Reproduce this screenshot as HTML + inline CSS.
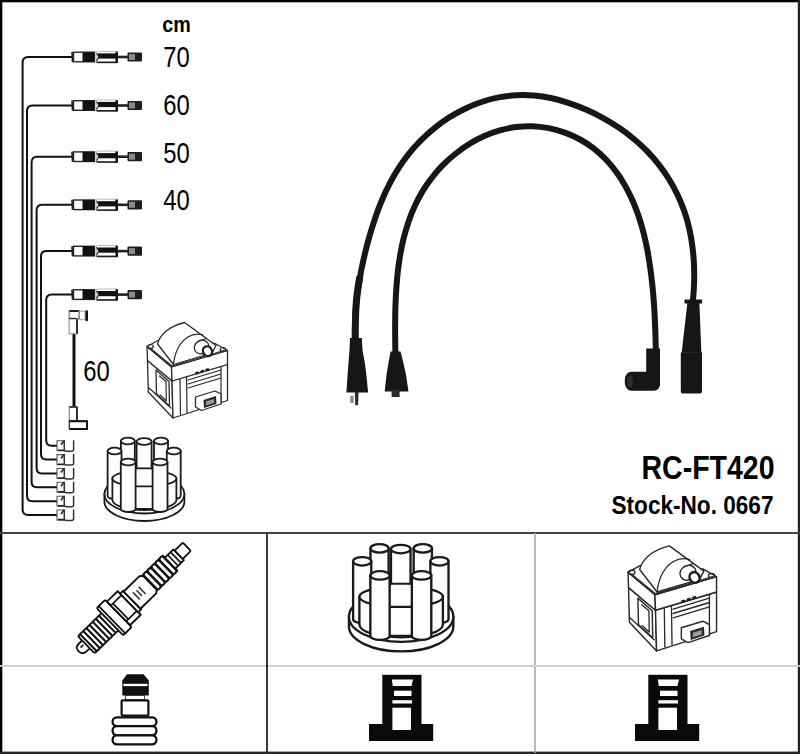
<!DOCTYPE html>
<html><head><meta charset="utf-8"><title>RC-FT420</title>
<style>
html,body{margin:0;padding:0;background:#fff;}
body{width:800px;height:754px;overflow:hidden;position:relative;font-family:"Liberation Sans",sans-serif;}
svg{position:absolute;left:0;top:0;}
</style></head><body>
<svg width="800" height="754" viewBox="0 0 800 754" font-family="Liberation Sans, sans-serif">
<rect x="0" y="0" width="800" height="754" fill="#fff"/>
<rect x="0" y="0" width="800" height="2.3" fill="#000"/>
<rect x="0" y="0" width="2.3" height="754" fill="#000"/>
<rect x="797.8" y="0" width="2.2" height="754" fill="#222"/>
<rect x="0" y="751.6" width="800" height="2.4" fill="#262626"/>
<rect x="0" y="532" width="800" height="2" fill="#444"/>
<rect x="266" y="533" width="2" height="220" fill="#3a3a3a"/>
<rect x="534.2" y="533" width="1.6" height="220" fill="#aaa"/>
<rect x="0" y="665" width="800" height="1.8" fill="#ccc"/>
<rect x="266" y="665" width="2" height="2" fill="#222"/>
<text x="162.3" y="31.6" font-weight="bold" font-size="22.5" textLength="28.5" lengthAdjust="spacingAndGlyphs">cm</text>
<text x="163.3" y="67.3" font-size="30" textLength="26.5" lengthAdjust="spacingAndGlyphs">70</text>
<text x="163.3" y="114.7" font-size="30" textLength="26.5" lengthAdjust="spacingAndGlyphs">60</text>
<text x="163.3" y="162.8" font-size="30" textLength="26.5" lengthAdjust="spacingAndGlyphs">50</text>
<text x="163.3" y="210.4" font-size="30" textLength="26.5" lengthAdjust="spacingAndGlyphs">40</text>
<text x="83.3" y="381.4" font-size="30" textLength="26.5" lengthAdjust="spacingAndGlyphs">60</text>
<text x="641.5" y="479.4" font-weight="bold" font-size="33.5" textLength="133" lengthAdjust="spacingAndGlyphs">RC-FT420</text>
<text x="611.5" y="514" font-weight="bold" font-size="25" textLength="162" lengthAdjust="spacingAndGlyphs">Stock-No. 0667</text>
<path d="M72 57.0 L28.1 57.0 Q22.6 57.0 22.6 62.5 L22.6 509.5 Q22.6 515.0 28.1 515.0 L57 515.0" fill="none" stroke="#111" stroke-width="2"/>
<path d="M72 105.5 L32.5 105.5 Q27.0 105.5 27.0 111.0 L27.0 495.7 Q27.0 501.2 32.5 501.2 L57 501.2" fill="none" stroke="#111" stroke-width="2"/>
<path d="M72 156.7 L37.1 156.7 Q31.6 156.7 31.6 162.2 L31.6 481.8 Q31.6 487.3 37.1 487.3 L57 487.3" fill="none" stroke="#111" stroke-width="2"/>
<path d="M72 204.8 L42.1 204.8 Q36.6 204.8 36.6 210.3 L36.6 468.0 Q36.6 473.5 42.1 473.5 L57 473.5" fill="none" stroke="#111" stroke-width="2"/>
<path d="M72 251.1 L46.5 251.1 Q41.0 251.1 41.0 256.6 L41.0 454.1 Q41.0 459.6 46.5 459.6 L57 459.6" fill="none" stroke="#111" stroke-width="2"/>
<path d="M72 294.6 L51.7 294.6 Q46.2 294.6 46.2 300.1 L46.2 440.2 Q46.2 445.7 51.7 445.7 L57 445.7" fill="none" stroke="#111" stroke-width="2"/>
<path d="M72 52.0 L72.5 62.0" stroke="#222" stroke-width="1.6"/><rect x="73.5" y="52.2" width="21" height="9.6" fill="#fff" stroke="#222" stroke-width="1.4"/><rect x="82.5" y="52.2" width="11.5" height="9.6" fill="#111"/><rect x="96.3" y="51.4" width="21" height="11.4" rx="1.2" fill="#fff" stroke="#bbb" stroke-width="1"/><path d="M96 53.2 L98.5 56.0 L96 61.5 L96.5 63.0 L118 63.0 L118 52.0 L115.5 54.0 L98 53.5 Z" fill="none"/><rect x="98" y="53.4" width="19" height="5.2" fill="#111"/><rect x="96.5" y="61.5" width="21" height="1.6" fill="#222"/><rect x="115.5" y="51.5" width="2.5" height="11.5" rx="1" fill="#111"/><path d="M96.5 53.0 L98.8 57.0 L96.5 61.0" fill="none" stroke="#333" stroke-width="1.2"/><rect x="117" y="55.7" width="11.5" height="2.6" fill="#222"/><rect x="127.5" y="52.4" width="14.5" height="9.2" rx="1" fill="#1e1e1e"/><rect x="129" y="54.0" width="6" height="6" fill="#8a8a8a"/>
<path d="M72 100.5 L72.5 110.5" stroke="#222" stroke-width="1.6"/><rect x="73.5" y="100.7" width="21" height="9.6" fill="#fff" stroke="#222" stroke-width="1.4"/><rect x="82.5" y="100.7" width="11.5" height="9.6" fill="#111"/><rect x="96.3" y="99.9" width="21" height="11.4" rx="1.2" fill="#fff" stroke="#bbb" stroke-width="1"/><path d="M96 101.7 L98.5 104.5 L96 110.0 L96.5 111.5 L118 111.5 L118 100.5 L115.5 102.5 L98 102.0 Z" fill="none"/><rect x="98" y="101.9" width="19" height="5.2" fill="#111"/><rect x="96.5" y="110.0" width="21" height="1.6" fill="#222"/><rect x="115.5" y="100.0" width="2.5" height="11.5" rx="1" fill="#111"/><path d="M96.5 101.5 L98.8 105.5 L96.5 109.5" fill="none" stroke="#333" stroke-width="1.2"/><rect x="117" y="104.2" width="11.5" height="2.6" fill="#222"/><rect x="127.5" y="100.9" width="14.5" height="9.2" rx="1" fill="#1e1e1e"/><rect x="129" y="102.5" width="6" height="6" fill="#8a8a8a"/>
<path d="M72 151.7 L72.5 161.7" stroke="#222" stroke-width="1.6"/><rect x="73.5" y="151.9" width="21" height="9.6" fill="#fff" stroke="#222" stroke-width="1.4"/><rect x="82.5" y="151.9" width="11.5" height="9.6" fill="#111"/><rect x="96.3" y="151.1" width="21" height="11.4" rx="1.2" fill="#fff" stroke="#bbb" stroke-width="1"/><path d="M96 152.9 L98.5 155.7 L96 161.2 L96.5 162.7 L118 162.7 L118 151.7 L115.5 153.7 L98 153.2 Z" fill="none"/><rect x="98" y="153.1" width="19" height="5.2" fill="#111"/><rect x="96.5" y="161.2" width="21" height="1.6" fill="#222"/><rect x="115.5" y="151.2" width="2.5" height="11.5" rx="1" fill="#111"/><path d="M96.5 152.7 L98.8 156.7 L96.5 160.7" fill="none" stroke="#333" stroke-width="1.2"/><rect x="117" y="155.4" width="11.5" height="2.6" fill="#222"/><rect x="127.5" y="152.1" width="14.5" height="9.2" rx="1" fill="#1e1e1e"/><rect x="129" y="153.7" width="6" height="6" fill="#8a8a8a"/>
<path d="M72 199.8 L72.5 209.8" stroke="#222" stroke-width="1.6"/><rect x="73.5" y="200.0" width="21" height="9.6" fill="#fff" stroke="#222" stroke-width="1.4"/><rect x="82.5" y="200.0" width="11.5" height="9.6" fill="#111"/><rect x="96.3" y="199.2" width="21" height="11.4" rx="1.2" fill="#fff" stroke="#bbb" stroke-width="1"/><path d="M96 201.0 L98.5 203.8 L96 209.3 L96.5 210.8 L118 210.8 L118 199.8 L115.5 201.8 L98 201.3 Z" fill="none"/><rect x="98" y="201.2" width="19" height="5.2" fill="#111"/><rect x="96.5" y="209.3" width="21" height="1.6" fill="#222"/><rect x="115.5" y="199.3" width="2.5" height="11.5" rx="1" fill="#111"/><path d="M96.5 200.8 L98.8 204.8 L96.5 208.8" fill="none" stroke="#333" stroke-width="1.2"/><rect x="117" y="203.5" width="11.5" height="2.6" fill="#222"/><rect x="127.5" y="200.2" width="14.5" height="9.2" rx="1" fill="#1e1e1e"/><rect x="129" y="201.8" width="6" height="6" fill="#8a8a8a"/>
<path d="M72 246.1 L72.5 256.1" stroke="#222" stroke-width="1.6"/><rect x="73.5" y="246.3" width="21" height="9.6" fill="#fff" stroke="#222" stroke-width="1.4"/><rect x="82.5" y="246.3" width="11.5" height="9.6" fill="#111"/><rect x="96.3" y="245.5" width="21" height="11.4" rx="1.2" fill="#fff" stroke="#bbb" stroke-width="1"/><path d="M96 247.3 L98.5 250.1 L96 255.6 L96.5 257.1 L118 257.1 L118 246.1 L115.5 248.1 L98 247.6 Z" fill="none"/><rect x="98" y="247.5" width="19" height="5.2" fill="#111"/><rect x="96.5" y="255.6" width="21" height="1.6" fill="#222"/><rect x="115.5" y="245.6" width="2.5" height="11.5" rx="1" fill="#111"/><path d="M96.5 247.1 L98.8 251.1 L96.5 255.1" fill="none" stroke="#333" stroke-width="1.2"/><rect x="117" y="249.8" width="11.5" height="2.6" fill="#222"/><rect x="127.5" y="246.5" width="14.5" height="9.2" rx="1" fill="#1e1e1e"/><rect x="129" y="248.1" width="6" height="6" fill="#8a8a8a"/>
<path d="M72 289.6 L72.5 299.6" stroke="#222" stroke-width="1.6"/><rect x="73.5" y="289.8" width="21" height="9.6" fill="#fff" stroke="#222" stroke-width="1.4"/><rect x="82.5" y="289.8" width="11.5" height="9.6" fill="#111"/><rect x="96.3" y="289.0" width="21" height="11.4" rx="1.2" fill="#fff" stroke="#bbb" stroke-width="1"/><path d="M96 290.8 L98.5 293.6 L96 299.1 L96.5 300.6 L118 300.6 L118 289.6 L115.5 291.6 L98 291.1 Z" fill="none"/><rect x="98" y="291.0" width="19" height="5.2" fill="#111"/><rect x="96.5" y="299.1" width="21" height="1.6" fill="#222"/><rect x="115.5" y="289.1" width="2.5" height="11.5" rx="1" fill="#111"/><path d="M96.5 290.6 L98.8 294.6 L96.5 298.6" fill="none" stroke="#333" stroke-width="1.2"/><rect x="117" y="293.3" width="11.5" height="2.6" fill="#222"/><rect x="127.5" y="290.0" width="14.5" height="9.2" rx="1" fill="#1e1e1e"/><rect x="129" y="291.6" width="6" height="6" fill="#8a8a8a"/>
<path d="M57 510.0 L57 520.0 L64.5 520.0 L64.5 510.0 Z" fill="#fff" stroke="#555" stroke-width="1.1"/><path d="M58 519.6 L64 519.6 M61 514.0 L64 510.0" stroke="#222" stroke-width="1.6"/><path d="M64.3 509.5 L64.3 518.5 Q64.3 520.5 66.5 520.5 L71.5 520.5 Q73.6 520.5 73.6 518.5 L73.6 509.5" fill="#fff" stroke="#333" stroke-width="1.5"/>
<path d="M57 496.2 L57 506.2 L64.5 506.2 L64.5 496.2 Z" fill="#fff" stroke="#555" stroke-width="1.1"/><path d="M58 505.8 L64 505.8 M61 500.2 L64 496.2" stroke="#222" stroke-width="1.6"/><path d="M64.3 495.7 L64.3 504.7 Q64.3 506.7 66.5 506.7 L71.5 506.7 Q73.6 506.7 73.6 504.7 L73.6 495.7" fill="#fff" stroke="#333" stroke-width="1.5"/>
<path d="M57 482.3 L57 492.3 L64.5 492.3 L64.5 482.3 Z" fill="#fff" stroke="#555" stroke-width="1.1"/><path d="M58 491.9 L64 491.9 M61 486.3 L64 482.3" stroke="#222" stroke-width="1.6"/><path d="M64.3 481.8 L64.3 490.8 Q64.3 492.8 66.5 492.8 L71.5 492.8 Q73.6 492.8 73.6 490.8 L73.6 481.8" fill="#fff" stroke="#333" stroke-width="1.5"/>
<path d="M57 468.5 L57 478.5 L64.5 478.5 L64.5 468.5 Z" fill="#fff" stroke="#555" stroke-width="1.1"/><path d="M58 478.1 L64 478.1 M61 472.5 L64 468.5" stroke="#222" stroke-width="1.6"/><path d="M64.3 468.0 L64.3 477.0 Q64.3 479.0 66.5 479.0 L71.5 479.0 Q73.6 479.0 73.6 477.0 L73.6 468.0" fill="#fff" stroke="#333" stroke-width="1.5"/>
<path d="M57 454.6 L57 464.6 L64.5 464.6 L64.5 454.6 Z" fill="#fff" stroke="#555" stroke-width="1.1"/><path d="M58 464.2 L64 464.2 M61 458.6 L64 454.6" stroke="#222" stroke-width="1.6"/><path d="M64.3 454.1 L64.3 463.1 Q64.3 465.1 66.5 465.1 L71.5 465.1 Q73.6 465.1 73.6 463.1 L73.6 454.1" fill="#fff" stroke="#333" stroke-width="1.5"/>
<path d="M57 440.7 L57 450.7 L64.5 450.7 L64.5 440.7 Z" fill="#fff" stroke="#555" stroke-width="1.1"/><path d="M58 450.3 L64 450.3 M61 444.7 L64 440.7" stroke="#222" stroke-width="1.6"/><path d="M64.3 440.2 L64.3 449.2 Q64.3 451.2 66.5 451.2 L71.5 451.2 Q73.6 451.2 73.6 449.2 L73.6 440.2" fill="#fff" stroke="#333" stroke-width="1.5"/>
<path d="M74 333 L74 407" stroke="#111" stroke-width="3"/>
<rect x="69.2" y="318.5" width="7.8" height="15.3" fill="#fff" stroke="#999" stroke-width="1.2"/>
<path d="M77 318.5 L77 333.8" stroke="#222" stroke-width="1.8"/>
<rect x="79.4" y="311.2" width="5.6" height="8.5" fill="#fff" stroke="#aaa" stroke-width="1.1"/>
<rect x="69.2" y="310.6" width="9.8" height="7.9" fill="#fff" stroke="#777" stroke-width="1.2"/>
<path d="M69.5 311 L78.5 311" stroke="#111" stroke-width="1.8"/>
<path d="M69.5 318.5 L76 318.5" stroke="#333" stroke-width="1.4"/>
<rect x="85.4" y="310.3" width="2.6" height="11" rx="1.2" fill="#111"/>
<rect x="69.3" y="406.6" width="7.6" height="14.2" fill="#fff" stroke="#888" stroke-width="1.2"/>
<path d="M76.9 406.6 L76.9 421" stroke="#222" stroke-width="1.8"/>
<path d="M69.3 421 L69.3 429 L87 429 L87 421.2 Z" fill="#fff" stroke="#333" stroke-width="1.3"/>
<path d="M69.5 421.2 L87 421.2 L87 429 L70 429" fill="none" stroke="#111" stroke-width="1.9"/>
<path d="M69.5 407 L76 407" stroke="#222" stroke-width="1.6"/>
<path d="M355.0 341.8 C354.8 335.8 354.8 329.7 355.0 323.8 C355.2 317.8 355.6 311.8 356.1 305.9 C356.6 299.9 357.3 294.0 358.2 288.1 C359.1 282.3 360.1 276.4 361.2 270.5 C362.4 264.6 363.7 258.8 365.1 252.9 C366.5 247.0 368.1 241.1 369.8 235.2 C371.4 229.4 373.3 223.5 375.3 217.7 C377.2 211.9 379.4 206.2 381.8 200.5 C384.1 194.9 386.7 189.3 389.5 183.9 C392.3 178.5 395.3 173.2 398.6 168.1 C401.8 163.0 405.4 158.1 409.2 153.4 C413.0 148.6 417.1 144.1 421.3 139.9 C425.6 135.6 430.1 131.5 434.8 127.8 C439.5 124.0 444.4 120.5 449.4 117.3 C454.5 114.1 459.7 111.2 465.1 108.7 C470.4 106.1 475.9 103.8 481.5 102.0 C487.1 100.1 492.8 98.5 498.6 97.4 C504.4 96.3 510.3 95.5 516.2 95.2 C522.1 94.9 528.1 95.0 534.0 95.5 C540.0 96.0 546.0 97.0 552.0 98.3 C558.0 99.6 563.9 101.3 569.7 103.3 C575.6 105.2 581.4 107.5 587.0 110.0 C592.7 112.5 598.2 115.3 603.6 118.3 C608.9 121.2 614.1 124.4 619.1 127.8 C624.2 131.2 629.0 134.9 633.6 138.7 C638.2 142.6 642.7 146.6 646.8 150.9 C651.0 155.2 655.0 159.7 658.6 164.4 C662.3 169.1 665.8 174.0 668.9 179.0 C672.1 184.1 674.9 189.3 677.5 194.7 C680.1 200.1 682.4 205.6 684.3 211.3 C686.3 216.9 688.0 222.7 689.3 228.6 C690.6 234.5 691.7 240.5 692.4 246.5 C693.2 252.5 693.7 258.6 694.0 264.7 C694.2 270.8 694.3 276.9 694.1 283.0 C693.9 289.1 693.5 295.1 692.9 301.1" fill="none" stroke="#161616" stroke-width="6"/>
<path d="M395.4 353.4 C395.3 348.2 395.2 342.9 395.2 337.5 C395.1 332.1 395.1 326.7 395.2 321.1 C395.2 315.6 395.3 310.0 395.5 304.4 C395.7 298.8 396.0 293.2 396.4 287.5 C396.8 281.9 397.3 276.2 397.9 270.6 C398.6 265.0 399.4 259.4 400.4 253.8 C401.4 248.2 402.5 242.7 403.9 237.3 C405.3 231.9 406.9 226.5 408.7 221.2 C410.5 216.0 412.5 210.8 414.9 205.8 C417.2 200.7 419.8 195.8 422.6 191.1 C425.5 186.3 428.7 181.7 432.2 177.3 C435.6 172.9 439.3 168.7 443.3 164.7 C447.3 160.7 451.5 156.9 455.9 153.5 C460.3 150.0 464.8 146.7 469.6 143.8 C474.4 140.9 479.3 138.3 484.3 136.1 C489.4 133.8 494.6 131.9 499.8 130.4 C505.1 128.9 510.5 127.7 515.9 127.0 C521.3 126.3 526.8 126.0 532.3 126.2 C537.8 126.4 543.4 127.1 548.8 128.1 C554.3 129.2 559.7 130.7 564.9 132.6 C570.1 134.5 575.2 136.8 580.1 139.5 C585.0 142.2 589.6 145.2 594.0 148.6 C598.3 152.0 602.4 155.8 606.2 159.8 C609.9 163.8 613.5 168.1 616.7 172.6 C620.0 177.1 622.9 181.8 625.7 186.7 C628.4 191.6 630.9 196.7 633.1 201.8 C635.3 207.0 637.3 212.2 639.1 217.5 C640.8 222.9 642.4 228.3 643.8 233.7 C645.1 239.2 646.3 244.7 647.4 250.2 C648.4 255.8 649.3 261.3 650.1 266.9 C650.9 272.5 651.6 278.0 652.2 283.6 C652.8 289.2 653.3 294.7 653.7 300.3 C654.1 305.8 654.5 311.3 654.7 316.8 C655.0 322.3 655.2 327.8 655.4 333.3 C655.6 338.7 655.7 344.2 655.8 349.6" fill="none" stroke="#161616" stroke-width="6"/>
<path d="M355.3 340 C355.2 325 355.6 305 357.4 292 C358.2 286 359 281 359.8 277" fill="none" stroke="#161616" stroke-width="7"/>
<path d="M350 338 L361.8 338 L362.5 350 Q365 362 366.5 376 L368.1 392.6 L346.4 392.6 L347.5 376 Q348.5 362 349.5 350 Z" fill="#161616"/>
<path d="M354.9 392 L358.6 392 L358 405.3 L355.2 405.3 Z" fill="#2a2a2a"/>
<path d="M350.3 396 L353.6 396 L353.6 403 L350.3 403 Z" fill="#888"/>
<path d="M390.6 351.5 L400.6 351.5 Q404 365 406 375 L408.5 391.5 L384.7 391.5 L386.5 375 Q388 365 390.6 351.5 Z" fill="#161616"/>
<rect x="391.6" y="390" width="8" height="7" fill="#2a2a2a"/>
<path d="M646.2 348.4 L660 348.4 L660 385 Q659 390.7 654 390.7 L632 390.7 Q624.7 390.7 624.7 381.2 Q624.7 371.7 632 371.7 L646.2 371.7 Z" fill="#161616"/>
<ellipse cx="630" cy="381.2" rx="3" ry="6" fill="#2e2e2e"/>
<path d="M684.5 299.6 L702 299.6 L702 303.4 L699.4 303.4 L701.3 351.5 L702 353.5 L702 391 Q702 393.6 699 393.6 L683.5 393.6 Q680.8 393.6 680.8 391 L680.8 353.5 L681.8 351.5 L687.3 303.4 L684.5 303.4 Z" fill="#161616"/>
<path d="M681.5 352.6 L701.6 352.6" stroke="#2c2c2c" stroke-width="0.8"/>
<g><path d="M147.5 360.5 L172 381 L173 418 L148.3 392 Z" fill="#fff" stroke="#2a2a2a" stroke-width="1.3" stroke-linejoin="round"/><path d="M172 381 L227.5 364.5 L227.5 400.5 L173 418 Z" fill="#fff" stroke="#2a2a2a" stroke-width="1.3" stroke-linejoin="round"/><path d="M156 370 L169 381.5 L169.5 406 L156.5 394 Z" fill="#fff" stroke="#2a2a2a" stroke-width="1.3" stroke-linejoin="round"/><path d="M159.5 376 L166 381.5 L166.3 401 L160 395" fill="none" stroke="#2a2a2a" stroke-width="1.2" stroke-linejoin="round" stroke-linecap="round"/><path d="M149 388 L171 408" fill="none" stroke="#2a2a2a" stroke-width="1.2" stroke-linejoin="round" stroke-linecap="round"/><path d="M180 379 L180.5 414.5 M186.5 377 L187 412.5" fill="none" stroke="#2a2a2a" stroke-width="1.2" stroke-linejoin="round" stroke-linecap="round"/><path d="M188 380 L221 370 M188 384 L221 374 M188 388 L221 378" fill="none" stroke="#2a2a2a" stroke-width="1.2" stroke-linejoin="round" stroke-linecap="round"/><path d="M221 366 L221 402.5" fill="none" stroke="#2a2a2a" stroke-width="1.2" stroke-linejoin="round" stroke-linecap="round"/><path d="M195.5 397 L215 391 L221 394 L221 404 L201.5 410.5 L195.5 407 Z" fill="#fff" stroke="#2a2a2a" stroke-width="1.3" stroke-linejoin="round"/><path d="M203.5 400 L216 396 L216.5 404 L204 408 Z" fill="#2a2a2a"/><path d="M206 401.5 L214 399 L214 403 L206 405.5 Z" fill="#999"/><path d="M147 346.5 L171.5 367 L172 381 L147.5 360.5 Z" fill="#fff" stroke="#2a2a2a" stroke-width="1.3" stroke-linejoin="round"/><path d="M171.5 367 L227.5 350.5 L227.5 364.5 L172 381 Z" fill="#fff" stroke="#2a2a2a" stroke-width="1.3" stroke-linejoin="round"/><path d="M195.5 373.5 L199 372.4 M200.5 371.9 L204 370.8 M205.5 370.3 L209 369.2" stroke="#1e1e1e" stroke-width="2.6"/><path d="M147 346.5 L158 340.5 L215 343.5 L227.5 350.5 L171.5 367 Z" fill="#fff" stroke="#2a2a2a" stroke-width="1.3" stroke-linejoin="round"/><path d="M150 348 L172 366 L224 350.5" fill="none" stroke="#2a2a2a" stroke-width="1.2" stroke-linejoin="round" stroke-linecap="round"/><path d="M157.6 344 C160 334 170 326 184.6 322.5 L216 345.5 L212 353 L173.4 364.5 Z" fill="#fff" stroke="#2a2a2a" stroke-width="1.3" stroke-linejoin="round"/><path d="M173.4 364 C175 352 180 342 188 337 C193 334 198 333.5 203 335" fill="none" stroke="#2a2a2a" stroke-width="1.2" stroke-linejoin="round" stroke-linecap="round"/><path d="M194 343 L203 339.5 L212 347 L206 357 Z" fill="#fff"/><ellipse cx="201.5" cy="347" rx="7.5" ry="6.5" transform="rotate(-30 201.5 347)" fill="#fff" stroke="#2a2a2a" stroke-width="1.3" stroke-linejoin="round"/><path d="M198 341.5 L205.5 338.8 M203 353 L211 349.5" fill="none" stroke="#2a2a2a" stroke-width="1.2" stroke-linejoin="round" stroke-linecap="round"/><ellipse cx="207.5" cy="351.2" rx="4.4" ry="5" transform="rotate(-30 207.5 351.2)" fill="#fff" stroke="#1e1e1e" stroke-width="2.3"/><ellipse cx="150.5" cy="346.5" rx="2.8" ry="2" fill="none" stroke="#2a2a2a" stroke-width="1.2" stroke-linejoin="round" stroke-linecap="round"/><ellipse cx="223" cy="349.5" rx="2.8" ry="2" fill="none" stroke="#2a2a2a" stroke-width="1.2" stroke-linejoin="round" stroke-linecap="round"/></g>
<g transform="translate(466.3 191.1) scale(1.1)"><path d="M147.5 360.5 L172 381 L173 418 L148.3 392 Z" fill="#fff" stroke="#2a2a2a" stroke-width="1.3" stroke-linejoin="round"/><path d="M172 381 L227.5 364.5 L227.5 400.5 L173 418 Z" fill="#fff" stroke="#2a2a2a" stroke-width="1.3" stroke-linejoin="round"/><path d="M156 370 L169 381.5 L169.5 406 L156.5 394 Z" fill="#fff" stroke="#2a2a2a" stroke-width="1.3" stroke-linejoin="round"/><path d="M159.5 376 L166 381.5 L166.3 401 L160 395" fill="none" stroke="#2a2a2a" stroke-width="1.2" stroke-linejoin="round" stroke-linecap="round"/><path d="M149 388 L171 408" fill="none" stroke="#2a2a2a" stroke-width="1.2" stroke-linejoin="round" stroke-linecap="round"/><path d="M180 379 L180.5 414.5 M186.5 377 L187 412.5" fill="none" stroke="#2a2a2a" stroke-width="1.2" stroke-linejoin="round" stroke-linecap="round"/><path d="M188 380 L221 370 M188 384 L221 374 M188 388 L221 378" fill="none" stroke="#2a2a2a" stroke-width="1.2" stroke-linejoin="round" stroke-linecap="round"/><path d="M221 366 L221 402.5" fill="none" stroke="#2a2a2a" stroke-width="1.2" stroke-linejoin="round" stroke-linecap="round"/><path d="M195.5 397 L215 391 L221 394 L221 404 L201.5 410.5 L195.5 407 Z" fill="#fff" stroke="#2a2a2a" stroke-width="1.3" stroke-linejoin="round"/><path d="M203.5 400 L216 396 L216.5 404 L204 408 Z" fill="#2a2a2a"/><path d="M206 401.5 L214 399 L214 403 L206 405.5 Z" fill="#999"/><path d="M147 346.5 L171.5 367 L172 381 L147.5 360.5 Z" fill="#fff" stroke="#2a2a2a" stroke-width="1.3" stroke-linejoin="round"/><path d="M171.5 367 L227.5 350.5 L227.5 364.5 L172 381 Z" fill="#fff" stroke="#2a2a2a" stroke-width="1.3" stroke-linejoin="round"/><path d="M195.5 373.5 L199 372.4 M200.5 371.9 L204 370.8 M205.5 370.3 L209 369.2" stroke="#1e1e1e" stroke-width="2.6"/><path d="M147 346.5 L158 340.5 L215 343.5 L227.5 350.5 L171.5 367 Z" fill="#fff" stroke="#2a2a2a" stroke-width="1.3" stroke-linejoin="round"/><path d="M150 348 L172 366 L224 350.5" fill="none" stroke="#2a2a2a" stroke-width="1.2" stroke-linejoin="round" stroke-linecap="round"/><path d="M157.6 344 C160 334 170 326 184.6 322.5 L216 345.5 L212 353 L173.4 364.5 Z" fill="#fff" stroke="#2a2a2a" stroke-width="1.3" stroke-linejoin="round"/><path d="M173.4 364 C175 352 180 342 188 337 C193 334 198 333.5 203 335" fill="none" stroke="#2a2a2a" stroke-width="1.2" stroke-linejoin="round" stroke-linecap="round"/><path d="M194 343 L203 339.5 L212 347 L206 357 Z" fill="#fff"/><ellipse cx="201.5" cy="347" rx="7.5" ry="6.5" transform="rotate(-30 201.5 347)" fill="#fff" stroke="#2a2a2a" stroke-width="1.3" stroke-linejoin="round"/><path d="M198 341.5 L205.5 338.8 M203 353 L211 349.5" fill="none" stroke="#2a2a2a" stroke-width="1.2" stroke-linejoin="round" stroke-linecap="round"/><ellipse cx="207.5" cy="351.2" rx="4.4" ry="5" transform="rotate(-30 207.5 351.2)" fill="#fff" stroke="#1e1e1e" stroke-width="2.3"/><ellipse cx="150.5" cy="346.5" rx="2.8" ry="2" fill="none" stroke="#2a2a2a" stroke-width="1.2" stroke-linejoin="round" stroke-linecap="round"/><ellipse cx="223" cy="349.5" rx="2.8" ry="2" fill="none" stroke="#2a2a2a" stroke-width="1.2" stroke-linejoin="round" stroke-linecap="round"/></g>
<g><path d="M104.4 494 L104.4 501.5 A40 19.5 0 0 0 184.4 501.5 L184.4 494 Z" fill="#fff" stroke="#1a1a1a" stroke-width="1.8" stroke-linejoin="round"/><ellipse cx="144.4" cy="494" rx="40" ry="19.5" fill="#fff" stroke="#1a1a1a" stroke-width="1.8" stroke-linejoin="round"/><path d="M120.9 441 L120.9 476 A6.950000000000003 3 0 0 0 134.8 476 L134.8 441 Z" fill="#fff" stroke="#1a1a1a" stroke-width="1.8" stroke-linejoin="round"/><ellipse cx="127.85000000000001" cy="441" rx="6.950000000000003" ry="3.3" fill="#fff" stroke="#1a1a1a" stroke-width="1.8" stroke-linejoin="round"/><path d="M154 441 L154 476 A7.0 3 0 0 0 168 476 L168 441 Z" fill="#fff" stroke="#1a1a1a" stroke-width="1.8" stroke-linejoin="round"/><ellipse cx="161.0" cy="441" rx="7.0" ry="3.3" fill="#fff" stroke="#1a1a1a" stroke-width="1.8" stroke-linejoin="round"/><path d="M107.6 451 L107.6 496 A6.950000000000003 3 0 0 0 121.5 496 L121.5 451 Z" fill="#fff" stroke="#1a1a1a" stroke-width="1.8" stroke-linejoin="round"/><ellipse cx="114.55" cy="451" rx="6.950000000000003" ry="3.3" fill="#fff" stroke="#1a1a1a" stroke-width="1.8" stroke-linejoin="round"/><path d="M166.8 451 L166.8 496 A6.949999999999989 3 0 0 0 180.7 496 L180.7 451 Z" fill="#fff" stroke="#1a1a1a" stroke-width="1.8" stroke-linejoin="round"/><ellipse cx="173.75" cy="451" rx="6.949999999999989" ry="3.3" fill="#fff" stroke="#1a1a1a" stroke-width="1.8" stroke-linejoin="round"/><path d="M112.4 478 L112.4 500 A32 10 0 0 0 176.4 500 L176.4 478 Z" fill="#fff" stroke="#1a1a1a" stroke-width="1.8" stroke-linejoin="round"/><ellipse cx="144.4" cy="478.5" rx="32" ry="8" fill="#fff" stroke="#1a1a1a" stroke-width="1.8" stroke-linejoin="round"/><path d="M136.6 441.5 L136.6 468.4 L135 468.4 L135 509 L152.9 509 L152.9 468.4 L151.6 468.4 L151.6 441.5 Z" fill="#fff" stroke="#1a1a1a" stroke-width="1.8" stroke-linejoin="round"/><ellipse cx="144.1" cy="441.5" rx="7.5" ry="3.3" fill="#fff" stroke="#1a1a1a" stroke-width="1.8" stroke-linejoin="round"/><path d="M135 468.4 L152.9 468.4 M135 486.4 L152.9 486.4" fill="none" stroke="#1a1a1a" stroke-width="1.6"/><path d="M120.8 462 L120.8 509 A7.399999999999999 3 0 0 0 135.6 509 L135.6 462 Z" fill="#fff" stroke="#1a1a1a" stroke-width="1.8" stroke-linejoin="round"/><ellipse cx="128.2" cy="462" rx="7.399999999999999" ry="3.3" fill="#fff" stroke="#1a1a1a" stroke-width="1.8" stroke-linejoin="round"/><path d="M152.6 462 L152.6 509 A7.450000000000003 3 0 0 0 167.5 509 L167.5 462 Z" fill="#fff" stroke="#1a1a1a" stroke-width="1.8" stroke-linejoin="round"/><ellipse cx="160.05" cy="462" rx="7.450000000000003" ry="3.3" fill="#fff" stroke="#1a1a1a" stroke-width="1.8" stroke-linejoin="round"/></g>
<g transform="translate(212.7 -19.6) scale(1.305 1.288)"><path d="M104.4 494 L104.4 501.5 A40 19.5 0 0 0 184.4 501.5 L184.4 494 Z" fill="#fff" stroke="#1a1a1a" stroke-width="1.8" stroke-linejoin="round"/><ellipse cx="144.4" cy="494" rx="40" ry="19.5" fill="#fff" stroke="#1a1a1a" stroke-width="1.8" stroke-linejoin="round"/><path d="M120.9 441 L120.9 476 A6.950000000000003 3 0 0 0 134.8 476 L134.8 441 Z" fill="#fff" stroke="#1a1a1a" stroke-width="1.8" stroke-linejoin="round"/><ellipse cx="127.85000000000001" cy="441" rx="6.950000000000003" ry="3.3" fill="#fff" stroke="#1a1a1a" stroke-width="1.8" stroke-linejoin="round"/><path d="M154 441 L154 476 A7.0 3 0 0 0 168 476 L168 441 Z" fill="#fff" stroke="#1a1a1a" stroke-width="1.8" stroke-linejoin="round"/><ellipse cx="161.0" cy="441" rx="7.0" ry="3.3" fill="#fff" stroke="#1a1a1a" stroke-width="1.8" stroke-linejoin="round"/><path d="M107.6 451 L107.6 496 A6.950000000000003 3 0 0 0 121.5 496 L121.5 451 Z" fill="#fff" stroke="#1a1a1a" stroke-width="1.8" stroke-linejoin="round"/><ellipse cx="114.55" cy="451" rx="6.950000000000003" ry="3.3" fill="#fff" stroke="#1a1a1a" stroke-width="1.8" stroke-linejoin="round"/><path d="M166.8 451 L166.8 496 A6.949999999999989 3 0 0 0 180.7 496 L180.7 451 Z" fill="#fff" stroke="#1a1a1a" stroke-width="1.8" stroke-linejoin="round"/><ellipse cx="173.75" cy="451" rx="6.949999999999989" ry="3.3" fill="#fff" stroke="#1a1a1a" stroke-width="1.8" stroke-linejoin="round"/><path d="M112.4 478 L112.4 500 A32 10 0 0 0 176.4 500 L176.4 478 Z" fill="#fff" stroke="#1a1a1a" stroke-width="1.8" stroke-linejoin="round"/><ellipse cx="144.4" cy="478.5" rx="32" ry="8" fill="#fff" stroke="#1a1a1a" stroke-width="1.8" stroke-linejoin="round"/><path d="M136.6 441.5 L136.6 468.4 L135 468.4 L135 509 L152.9 509 L152.9 468.4 L151.6 468.4 L151.6 441.5 Z" fill="#fff" stroke="#1a1a1a" stroke-width="1.8" stroke-linejoin="round"/><ellipse cx="144.1" cy="441.5" rx="7.5" ry="3.3" fill="#fff" stroke="#1a1a1a" stroke-width="1.8" stroke-linejoin="round"/><path d="M135 468.4 L152.9 468.4 M135 486.4 L152.9 486.4" fill="none" stroke="#1a1a1a" stroke-width="1.6"/><path d="M120.8 462 L120.8 509 A7.399999999999999 3 0 0 0 135.6 509 L135.6 462 Z" fill="#fff" stroke="#1a1a1a" stroke-width="1.8" stroke-linejoin="round"/><ellipse cx="128.2" cy="462" rx="7.399999999999999" ry="3.3" fill="#fff" stroke="#1a1a1a" stroke-width="1.8" stroke-linejoin="round"/><path d="M152.6 462 L152.6 509 A7.450000000000003 3 0 0 0 167.5 509 L167.5 462 Z" fill="#fff" stroke="#1a1a1a" stroke-width="1.8" stroke-linejoin="round"/><ellipse cx="160.05" cy="462" rx="7.450000000000003" ry="3.3" fill="#fff" stroke="#1a1a1a" stroke-width="1.8" stroke-linejoin="round"/></g>
<g transform="translate(86.25 644.8) rotate(-44.26)"><path d="M0 -6 L-5 -6 Q-10 -6 -10 -1 Q-10 5 -4 5 L0 5" fill="none" stroke="#111" stroke-width="1.8"/><path d="M-6 -2 L-2 -2" fill="none" stroke="#111" stroke-width="1.7"/><rect x="0" y="-12" width="34" height="24" rx="2" fill="#fff" stroke="#111" stroke-width="1.9" stroke-linejoin="round"/><path d="M3.0 -12 L3.0 12" stroke="#111" stroke-width="2.1"/><path d="M7.4 -12 L7.4 12" stroke="#111" stroke-width="2.1"/><path d="M11.8 -12 L11.8 12" stroke="#111" stroke-width="2.1"/><path d="M16.2 -12 L16.2 12" stroke="#111" stroke-width="2.1"/><path d="M20.6 -12 L20.6 12" stroke="#111" stroke-width="2.1"/><path d="M25.0 -12 L25.0 12" stroke="#111" stroke-width="2.1"/><path d="M29.4 -12 L29.4 12" stroke="#111" stroke-width="2.1"/><rect x="33" y="-19" width="12" height="38" rx="2" fill="#fff" stroke="#111" stroke-width="1.9" stroke-linejoin="round"/><path d="M36 -19 L36 19" fill="none" stroke="#111" stroke-width="1.7"/><rect x="45" y="-16.5" width="15" height="33" fill="#fff" stroke="#111" stroke-width="1.9" stroke-linejoin="round"/><path d="M45 -11 L60 -11 M45 11 L60 11 M48 -11 L48 11" fill="none" stroke="#111" stroke-width="1.7"/><path d="M60 -13 L64 -13 L64 13 L60 13 Z" fill="#fff" stroke="#111" stroke-width="1.9" stroke-linejoin="round"/><path d="M64 -12 L86 -12 L89 -9.5 L89 9.5 L86 12 L64 12 Z" fill="#fff" stroke="#111" stroke-width="1.9" stroke-linejoin="round"/><path d="M70 -5 L70 5 M74 -4 L74 4 M78 -5 L78 5" stroke="#333" stroke-width="1.6"/><path d="M89 -10.5 L117 -10.5 L117 10.5 L89 10.5 Z" fill="#fff" stroke="#111" stroke-width="1.9" stroke-linejoin="round"/><rect x="89.6" y="-10.8" width="4.9" height="21.6" rx="2.4" fill="#fff" stroke="#111" stroke-width="1.9" stroke-linejoin="round"/><rect x="95.1" y="-10.8" width="4.9" height="21.6" rx="2.4" fill="#fff" stroke="#111" stroke-width="1.9" stroke-linejoin="round"/><rect x="100.6" y="-10.8" width="4.9" height="21.6" rx="2.4" fill="#fff" stroke="#111" stroke-width="1.9" stroke-linejoin="round"/><rect x="106.1" y="-10.8" width="4.9" height="21.6" rx="2.4" fill="#fff" stroke="#111" stroke-width="1.9" stroke-linejoin="round"/><rect x="111.6" y="-10.8" width="4.9" height="21.6" rx="2.4" fill="#fff" stroke="#111" stroke-width="1.9" stroke-linejoin="round"/><path d="M117 -7.5 L129 -7.5 L129 7.5 L117 7.5 Z" fill="#fff" stroke="#111" stroke-width="1.9" stroke-linejoin="round"/><path d="M121 -7.5 L121 7.5 M125 -7.5 L125 7.5" fill="none" stroke="#111" stroke-width="1.7"/><rect x="129" y="-5.8" width="11.5" height="11.6" rx="1.5" fill="#fff" stroke="#111" stroke-width="1.9" stroke-linejoin="round"/></g>
<path d="M127 674.2 L143.5 674.2 L148.8 680.6 L148.8 695.5 L122.3 695.5 L122.3 680.6 Z" fill="#111"/>
<rect x="123.5" y="683.8" width="24" height="2.3" fill="#fff"/>
<rect x="125.5" y="695.5" width="19" height="4.2" fill="#fff" stroke="#222" stroke-width="0.8"/>
<rect x="121.6" y="700.4" width="26.8" height="15.2" rx="1" fill="#fff" stroke="#111" stroke-width="2.2"/>
<rect x="112.6" y="717.3" width="43.8" height="8.9" rx="4.2" fill="#fff" stroke="#111" stroke-width="2.3"/>
<rect x="112.6" y="726.2" width="43.8" height="9.1" rx="4.2" fill="#fff" stroke="#111" stroke-width="2.3"/>
<rect x="112.6" y="735.3" width="43.8" height="9.0" rx="4.2" fill="#fff" stroke="#111" stroke-width="2.3"/>
<rect x="382.3" y="674.8" width="39.2" height="50" fill="#0a0a0a"/><rect x="369" y="724" width="64.2" height="17" fill="#0a0a0a"/><path d="M391.8 679.5 L413 679.5 L411.5 685.9 L392.8 685.9 Z" fill="#fff"/><rect x="394" y="690.7" width="17.5" height="5.3" fill="#fff"/><rect x="392.4" y="700.2" width="19.6" height="3.3" fill="#fff"/><rect x="392.4" y="707.7" width="18.6" height="22.3" fill="#fff"/>
<rect x="648.3" y="674.8" width="39.2" height="50" fill="#0a0a0a"/><rect x="635" y="724" width="64.2" height="17" fill="#0a0a0a"/><path d="M657.8 679.5 L679 679.5 L677.5 685.9 L658.8 685.9 Z" fill="#fff"/><rect x="660" y="690.7" width="17.5" height="5.3" fill="#fff"/><rect x="658.4" y="700.2" width="19.6" height="3.3" fill="#fff"/><rect x="658.4" y="707.7" width="18.6" height="22.3" fill="#fff"/>
</svg>
</body></html>
